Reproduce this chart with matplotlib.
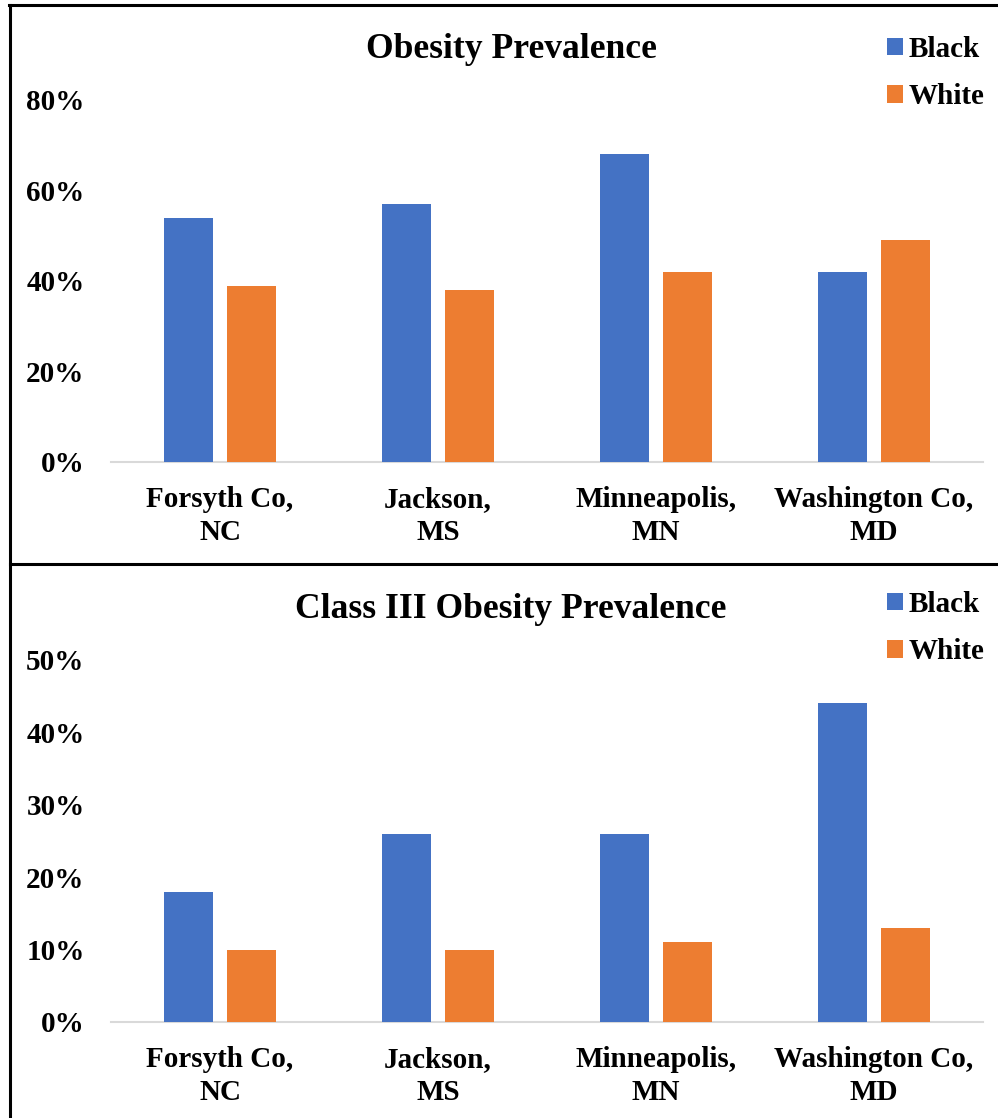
import numpy as np
import matplotlib.pyplot as plt
from matplotlib.lines import Line2D
from matplotlib.ticker import PercentFormatter

sites = ['Forsyth Co,\nNC', 'Jackson,\nMS', 'Minneapolis,\nMN', 'Washington Co,\nMD']

obesity_black = [54, 57, 68, 42]
obesity_white = [39, 38, 42, 49]

class3_black = [18, 26, 26, 44]
class3_white = [10, 10, 11, 13]

BLUE = '#4472C4'
ORANGE = '#ED7D31'

W, H = 998, 1118
plt.rcParams['font.family'] = ['Liberation Serif', 'DejaVu Serif']
plt.rcParams['font.weight'] = 'bold'

fig = plt.figure(figsize=(W / 100, H / 100), dpi=100)


def px_axes(left, top, right, bottom):
    return fig.add_axes([left / W, 1 - bottom / H, (right - left) / W, (bottom - top) / H])


def draw_panel(ax, black, white, title, ymax, step, title_y, leg_y):
    x = np.arange(len(sites))
    w = 0.225
    off = 0.143
    ax.bar(x - off, black, w, color=BLUE, label='Black', zorder=3)
    ax.bar(x + off, white, w, color=ORANGE, label='White', zorder=3)
    ax.set_xlim(-0.5, len(sites) - 0.5)
    ax.set_ylim(0, ymax)
    ax.set_yticks(np.arange(0, ymax + 1, step))
    ax.yaxis.set_major_formatter(PercentFormatter(decimals=0))
    ax.set_xticks(x)
    ax.set_xticklabels(sites, linespacing=1.32)
    ax.tick_params(axis='both', length=0, labelsize=21)
    ax.tick_params(axis='y', pad=19)
    ax.tick_params(axis='x', pad=17)
    for s in ['top', 'right', 'left']:
        ax.spines[s].set_visible(False)
    ax.spines['bottom'].set_color('#d9d9d9')
    ax.spines['bottom'].set_linewidth(1.5)
    fig.text(511 / W, 1 - title_y / H, title, ha='center', va='center',
             fontsize=25.6, fontweight='bold')
    ax.legend(loc='upper left', bbox_to_anchor=(887 / W, 1 - leg_y / H),
              bbox_transform=fig.transFigure, frameon=False, fontsize=21,
              handlelength=0.55, handleheight=0.55, handletextpad=0.18,
              labelspacing=0.69, borderaxespad=0, borderpad=0)


ax1 = px_axes(111, 100, 983, 462)
draw_panel(ax1, obesity_black, obesity_white, 'Obesity Prevalence', 80, 20, 50, 36)

ax2 = px_axes(111, 660, 983, 1022)
draw_panel(ax2, class3_black, class3_white, 'Class III Obesity Prevalence', 50, 10, 610, 591)

# panel frame lines
def fig_line(x0, y0, x1, y1):
    fig.add_artist(Line2D([x0 / W, x1 / W], [1 - y0 / H, 1 - y1 / H],
                          color='black', linewidth=2.2, transform=fig.transFigure))


fig_line(9.5, 4.5, 9.5, H)
fig_line(8.5, 4.5, W, 4.5)
fig_line(9.5, 563.5, W, 563.5)

fig.savefig('out.png', dpi=100)
